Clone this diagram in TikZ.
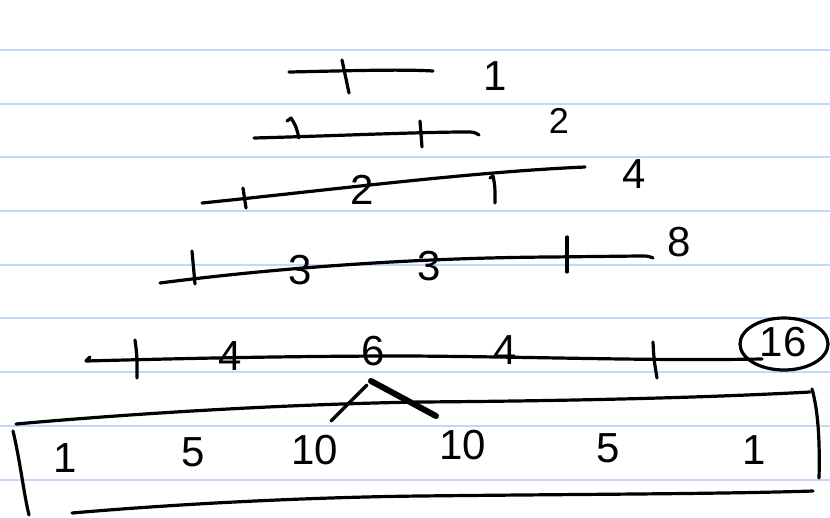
\documentclass[tikz,border=0pt]{standalone}
\usepackage{fontspec}
\setmainfont{Liberation Sans}
\usepackage{tikz}
\usetikzlibrary{shapes.geometric}
\definecolor{ruleblue}{RGB}{192,216,250}
\tikzset{
  ruled/.style={draw=ruleblue, line width=2pt},
  ink/.style={draw=black, line width=3.2pt, line cap=round, line join=round},
  heavy/.style={draw=black, line width=6pt, line cap=round},
  dig/.style={inner sep=0pt, font=\fontsize{42}{44}\selectfont},
  sdig/.style={inner sep=0pt, font=\fontsize{36}{38}\selectfont},
}

\begin{document}
\begin{tikzpicture}[x=1pt, y=-1pt]
  \useasboundingbox[fill=white] (0,0) rectangle (830,517);
  % paper rules
  \foreach \yy in {50,103.5,157,211,264.5,318,372,426,479.5}
    \draw[ruled] (0,\yy) -- (830,\yy);

  % row 1
  \draw[ink] (289,72) .. controls (340,71) and (400,69) .. (433,71);
  \draw[ink] (342,60) -- (349,93);
  \node[dig] (tot1) at (495,76) {1};

  % row 2
  \draw[ink] (254,138) .. controls (330,136) and (420,132) .. (466,132) .. controls (474,132) .. (479,135);
  \draw[ink] (287,121) -- (291,118) .. controls (296,126) .. (299,138);
  \draw[ink] (420,121) -- (422,147);
  \node[sdig] (tot2) at (559,121) {2};

  % row 3
  \draw[ink] (202,203) .. controls (330,190) and (470,172) .. (585,167);
  \draw[ink] (243,188) -- (246,208);
  \draw[ink] (490,178) -- (493,176) .. controls (495,186) .. (495,203);
  \node[dig] (r3b) at (362,190) {2};
  \node[dig] (tot4) at (634,174) {4};

  % row 4
  \draw[ink] (160,283) .. controls (260,270) and (400,258) .. (550,257) -- (640,256) .. controls (648,256) .. (653,258);
  \draw[ink] (192,251) -- (195,284);
  \draw[ink] (567,237) -- (567,272);
  \node[dig] (r4b) at (300,270) {3};
  \node[dig] (r4c) at (429,266) {3};
  \node[dig] (tot8) at (679,242) {8};

  % row 5
  \draw[ink] (90,357) -- (86,361) .. controls (200,358) and (300,356) .. (410,356) .. controls (550,357) and (650,361) .. (762,359);
  \draw[ink] (135,340) .. controls (137,355) .. (137,378);
  \draw[ink] (653,342) .. controls (654,360) .. (657,378);
  \node[dig] (r5b) at (230,356) {4};
  \node[dig] (r5c) at (373,351) {6};
  \node[dig] (r5d) at (505,350) {4};
  \node[dig] (tot16) at (783,342) {16};
  \draw[ink] (784,344) ellipse [x radius=44pt, y radius=26pt];

  % the split from 6
  \coordinate (apex) at (371,381);
  \coordinate (legl) at (331,421);
  \coordinate (legr) at (436,416);
  \draw[ink] (apex) ++(-4,4) -- (legl);
  \draw[heavy] (apex) -- (legr);

  % box row
  \draw[ink] (16,424) .. controls (150,412) and (300,404) .. (420,402) .. controls (560,401) and (700,398) .. (810,392);
  \draw[ink] (812,389) .. controls (818,410) and (820,440) .. (819,478);
  \draw[ink] (72,513) .. controls (200,502) and (330,497) .. (420,496) .. controls (600,494) and (720,494) .. (813,491);
  \draw[ink] (13,431) .. controls (20,460) and (24,495) .. (29,515);
  \node[dig] (b1) at (65,458) {1};
  \node[dig] (b2) at (193,452) {5};
  \node[dig] (b3) at (315,450) {10};
  \node[dig] (b4) at (463,445) {10};
  \node[dig] (b5) at (608,448) {5};
  \node[dig] (b6) at (754,450) {1};
\end{tikzpicture}
\end{document}
